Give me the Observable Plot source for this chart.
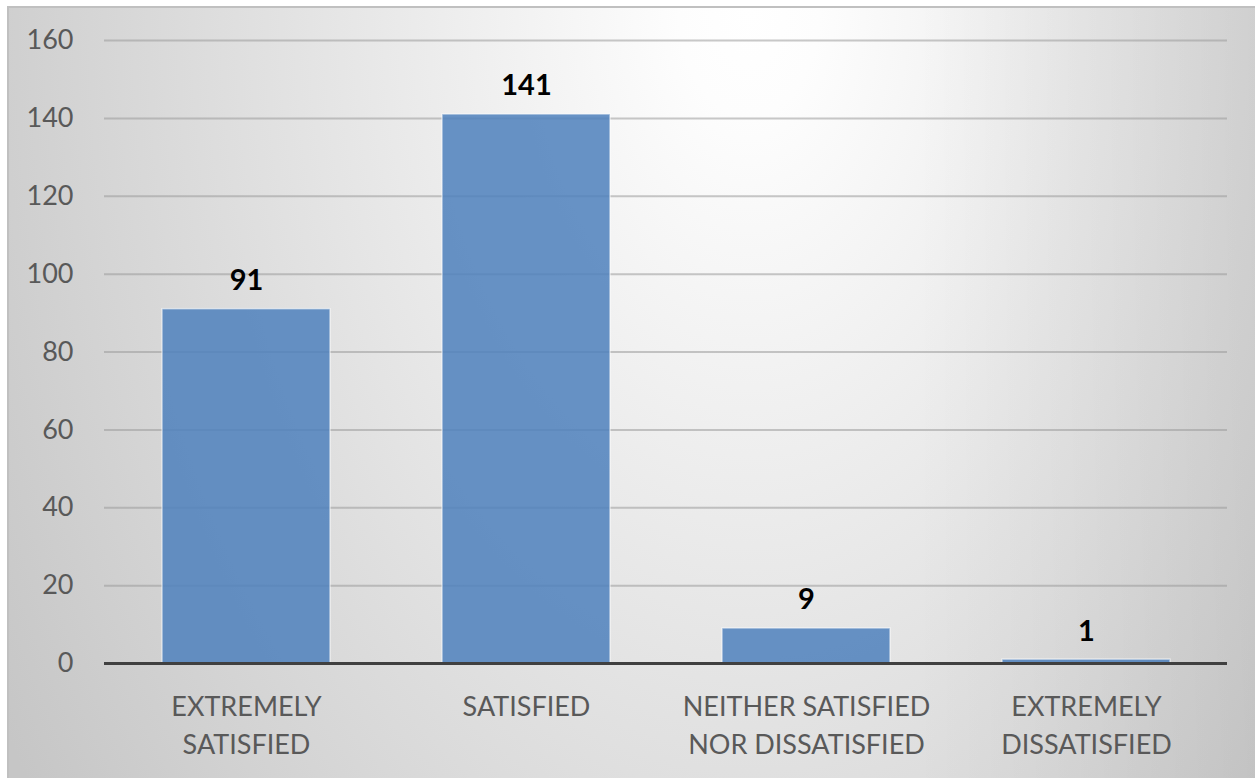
<!DOCTYPE html>
<html>
<head>
<meta charset="utf-8">
<script src="https://cdn.jsdelivr.net/npm/d3@7"></script>
<script src="https://cdn.jsdelivr.net/npm/@observablehq/plot@0.6"></script>
<style>
  html, body { margin: 0; padding: 0; background: #ffffff; width: 1255px; height: 778px; overflow: hidden; }
  #bg {
    position: absolute; left: 7px; top: 6px; width: 1260px; height: 790px;
    box-sizing: border-box;
    border-top: 2px solid #c0c0c0; border-left: 2px solid #c0c0c0;
    background:
      linear-gradient(to right, rgba(0,0,0,0) 72%, rgba(0,0,0,0.07) 99%),
      radial-gradient(ellipse 880px 1350px at 740px 0px, #ffffff 0%, #fdfdfd 8%, #c6c6c6 100%);
  }
  #chart { position: absolute; left: 0; top: 0; }
</style>
</head>
<body>
<div id="bg"></div>
<div id="chart"></div>
<script>
const categories = ["EXTREMELY\nSATISFIED", "SATISFIED", "NEITHER SATISFIED\nNOR DISSATISFIED", "EXTREMELY\nDISSATISFIED"];
const values = [91, 141, 9, 1];
const yTicks = [0, 20, 40, 60, 80, 100, 120, 140, 160];

const data = categories.map((c, i) => ({category: c, value: values[i]}));

const plot = Plot.plot({
  width: 1255,
  height: 778,
  marginLeft: 104,
  marginRight: 28,
  marginTop: 40,
  marginBottom: 115,
  style: {background: "transparent", fontFamily: "Lato, 'Open Sans', sans-serif", overflow: "visible"},
  x: {domain: categories, paddingInner: 0.4, paddingOuter: 0.2, label: null},
  y: {domain: [0, 160], ticks: yTicks, label: null},
  marks: [
    Plot.ruleY(yTicks.filter(d => d !== 0), {stroke: "#9a9a9a", strokeOpacity: 0.55, strokeWidth: 2}),
    Plot.barY(data, {x: "category", y: "value", fill: "#4f81bd", fillOpacity: 0.86, stroke: "#ffffff", strokeOpacity: 0.55, strokeWidth: 1.5}),
    Plot.ruleY([0], {stroke: "#404040", strokeWidth: 3}),
    Plot.text(data, {x: "category", y: "value", text: d => String(d.value), lineAnchor: "bottom", dy: -19, fontSize: 29, fontWeight: "bold", fill: "#000000"}),
    Plot.axisY({ticks: yTicks, tickSize: 0, tickPadding: 31, fontSize: 27, fill: "#595959", label: null}),
    Plot.axisX({tickSize: 0, tickPadding: 26, fontSize: 27, fill: "#595959", lineHeight: 1.4, label: null})
  ]
});
document.getElementById("chart").appendChild(plot);
</script>
</body>
</html>
